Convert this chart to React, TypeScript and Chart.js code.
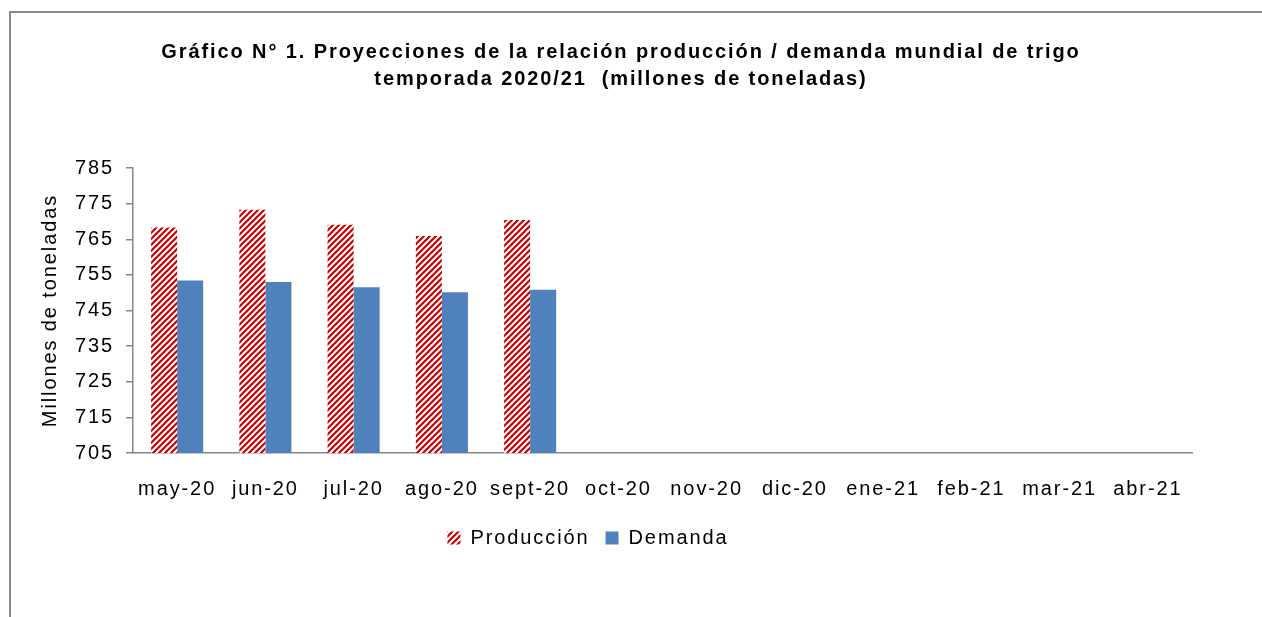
import React, { useEffect, useRef } from "react";
import { Chart, registerables } from "chart.js";

Chart.register(...registerables);

const CATEGORIES = [
  "may-20", "jun-20", "jul-20", "ago-20", "sept-20", "oct-20",
  "nov-20", "dic-20", "ene-21", "feb-21", "mar-21", "abr-21",
];
const PRODUCCION: (number | null)[] = [768.3, 773.3, 769.1, 765.9, 770.4, null, null, null, null, null, null, null];
const DEMANDA: (number | null)[] = [753.4, 753.0, 751.5, 750.1, 750.8, null, null, null, null, null, null, null];
const SERIES_LABELS = ["Producción", "Demanda"];
const Y_MIN = 705;
const Y_MAX = 785;
const Y_STEP = 10;
const TITLE_LINES = [
  "Gráfico N° 1. Proyecciones de la relación producción / demanda mundial de trigo",
  "temporada 2020/21  (millones de toneladas)",
];
const Y_TITLE = "Millones de toneladas";

const FONT = 'Arial, "Liberation Sans", sans-serif';
const FONT_SIZE = 20;
const AXIS_GRAY = "#868686";
const RED = "#CC0000";
const BLUE = "#4F81BD";
const LETTER_SPACING = "1.9px";

function makeHatch(color: string): CanvasPattern | string {
  const c = document.createElement("canvas");
  c.width = 6;
  c.height = 6;
  const g = c.getContext("2d");
  if (!g) return color;
  g.fillStyle = "#ffffff";
  g.fillRect(0, 0, 6, 6);
  g.strokeStyle = color;
  g.lineWidth = 2.2;
  g.beginPath();
  g.moveTo(-1, 7);
  g.lineTo(7, -1);
  g.moveTo(-1, 1);
  g.lineTo(1, -1);
  g.moveTo(5, 7);
  g.lineTo(7, 5);
  g.stroke();
  return g.createPattern(c, "repeat") || color;
}

function applySpacing(chart: any) {
  const ctx = chart.ctx as any;
  if (ctx && "letterSpacing" in ctx) ctx.letterSpacing = LETTER_SPACING;
}

const spacingPlugin = {
  id: "letterSpacing",
  afterInit: applySpacing,
  beforeUpdate: applySpacing,
  beforeLayout: applySpacing,
  beforeDraw: applySpacing,
};

const titlePlugin = {
  id: "customTitle",
  afterDraw(chart: any) {
    const ctx = chart.ctx;
    ctx.save();
    applySpacing(chart);
    ctx.font = `bold ${FONT_SIZE}px ${FONT}`;
    ctx.fillStyle = "#000";
    ctx.textAlign = "center";
    ctx.textBaseline = "middle";
    TITLE_LINES.forEach((t, i) => ctx.fillText(t, 621, 52.5 + i * 27));
    ctx.restore();
  },
};

export default function App() {
  const ref = useRef<HTMLCanvasElement | null>(null);

  useEffect(() => {
    if (!ref.current) return;
    Chart.defaults.font.family = FONT;
    Chart.defaults.color = "#000";
    const hatch = makeHatch(RED);
    const chart = new Chart(ref.current, {
      type: "bar",
      data: {
        labels: CATEGORIES,
        datasets: [
          {
            label: SERIES_LABELS[0],
            data: PRODUCCION,
            backgroundColor: hatch as any,
            borderWidth: 0,
            categoryPercentage: 0.59,
            barPercentage: 1,
          },
          {
            label: SERIES_LABELS[1],
            data: DEMANDA,
            backgroundColor: BLUE,
            borderWidth: 0,
            categoryPercentage: 0.59,
            barPercentage: 1,
          },
        ],
      },
      plugins: [spacingPlugin, titlePlugin],
      options: {
        animation: false,
        responsive: false,
        devicePixelRatio: 1,
        layout: { padding: { left: -16, right: 70, top: 168, bottom: 59 } },
        plugins: {
          title: { display: false },
          tooltip: { enabled: false },
          legend: {
            position: "bottom",
            labels: {
              boxWidth: 13,
              boxHeight: 13,
              padding: 16,
              color: "#000",
              font: { size: FONT_SIZE, family: FONT },
            },
          },
        },
        scales: {
          x: {
            grid: { display: false },
            border: { display: true, color: AXIS_GRAY, width: 1.5 },
            ticks: {
              padding: 16.5,
              color: "#000",
              font: { size: FONT_SIZE, family: FONT },
              maxRotation: 0,
              autoSkip: false,
            },
            afterFit: (s: any) => {
              s.height = 59;
            },
          },
          y: {
            min: Y_MIN,
            max: Y_MAX,
            ticks: {
              stepSize: Y_STEP,
              padding: 12,
              color: "#000",
              font: { size: FONT_SIZE, family: FONT },
            },
            grid: {
              drawOnChartArea: false,
              drawTicks: true,
              tickLength: 7,
              color: AXIS_GRAY,
              lineWidth: 1.5,
            },
            border: { display: true, color: AXIS_GRAY, width: 1.5 },
            title: {
              display: true,
              text: Y_TITLE,
              color: "#000",
              font: { size: FONT_SIZE, family: FONT },
              padding: { top: 54.5, bottom: 0 },
            },
            afterFit: (s: any) => {
              s.width = 149;
            },
          },
        },
      },
    });
    return () => chart.destroy();
  }, []);

  return (
    <div
      style={{
        position: "fixed",
        left: 0,
        top: 0,
        width: 1262,
        height: 617,
        overflow: "hidden",
        background: "#fff",
      }}
    >
      <div
        style={{
          position: "absolute",
          left: 9,
          top: 11,
          width: 1400,
          height: 800,
          borderLeft: "2px solid #8a8a8a",
          borderTop: "2px solid #8a8a8a",
        }}
      />
      <canvas
        ref={ref}
        width={1262}
        height={617}
        style={{ position: "absolute", left: 0, top: 0 }}
      />
    </div>
  );
}
